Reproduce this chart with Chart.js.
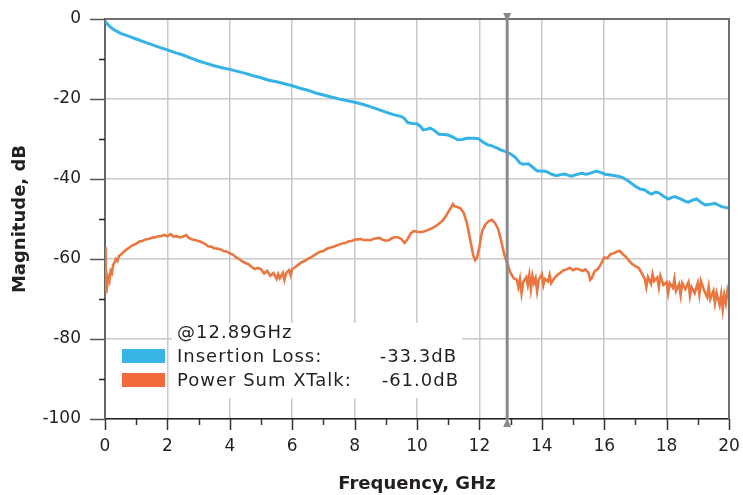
<!DOCTYPE html>
<html><head><meta charset="utf-8">
<script src="https://cdn.jsdelivr.net/npm/chart.js@4.4.1/dist/chart.umd.min.js"></script>
<style>html,body{margin:0;padding:0;background:#fff}#wrap{width:743px;height:495px;position:relative}</style>
</head><body><div id="wrap"><canvas id="c" width="743" height="495"></canvas></div>
<script>
// ---- data ----
const ilFreq = [0,0.1,0.25,0.5,0.75,1.0,1.25,1.5,1.75,2.0,2.25,2.5,2.75,3.0,3.25,3.5,3.75,4.0,4.25,4.5,4.75,5.0,5.25,5.5,5.75,6.0,6.25,6.5,6.75,7.0,7.25,7.5,7.75,8.0,8.25,8.5,8.75,9.0,9.25,9.5,9.6,9.7,9.85,10.0,10.1,10.2,10.3,10.42,10.55,10.7,10.85,11.0,11.15,11.3,11.45,11.6,11.8,11.97,12.1,12.25,12.4,12.55,12.7,12.89,13.05,13.15,13.3,13.4,13.57,13.7,13.85,14.0,14.15,14.3,14.47,14.6,14.74,14.85,14.96,15.1,15.28,15.4,15.5,15.65,15.76,15.9,16.03,16.2,16.35,16.5,16.61,16.75,16.88,17.0,17.15,17.3,17.42,17.52,17.64,17.74,17.9,18.06,18.17,18.27,18.38,18.48,18.6,18.7,18.83,18.96,19.1,19.23,19.4,19.55,19.66,19.76,19.88,20.0];
const ilDb = [-0.5,-1.5,-2.5,-3.6,-4.3,-5.0,-5.7,-6.4,-7.1,-7.7,-8.4,-9.0,-9.8,-10.5,-11.1,-11.7,-12.2,-12.6,-13.1,-13.6,-14.2,-14.7,-15.3,-15.7,-16.2,-16.7,-17.3,-17.8,-18.5,-19.0,-19.5,-20.0,-20.4,-20.8,-21.3,-21.9,-22.6,-23.3,-23.9,-24.4,-24.9,-25.9,-26.1,-26.2,-26.8,-27.7,-27.6,-27.3,-27.8,-28.8,-28.9,-29.0,-29.5,-30.2,-30.1,-29.8,-29.8,-29.9,-30.7,-31.4,-31.7,-32.2,-32.8,-33.3,-34.0,-34.6,-36.0,-36.3,-36.2,-37.0,-38.0,-38.0,-38.1,-38.8,-39.2,-38.9,-38.75,-39.1,-39.3,-38.9,-38.6,-38.8,-38.7,-38.3,-38.0,-38.4,-38.8,-39.0,-39.2,-39.4,-39.7,-40.4,-41.1,-41.8,-42.5,-42.75,-43.4,-43.75,-43.3,-43.4,-44.3,-45.0,-44.6,-44.4,-44.8,-45.1,-45.6,-45.8,-45.3,-45.0,-45.8,-46.5,-46.3,-46.1,-46.5,-46.9,-47.1,-47.3];

const xtFreq = [0,0.02,0.04,0.07,0.10,0.14,0.18,0.22,0.26,0.30,0.35,0.40,0.45,0.50,0.60,0.70,0.80,0.90,1.00,1.10,1.20,1.30,1.40,1.50,1.60,1.70,1.80,1.90,2.00,2.10,2.20,2.30,2.40,2.50,2.60,2.70,2.80,2.90,3.00,3.10,3.20,3.30,3.40,3.50,3.60,3.70,3.80,3.90,4.00,4.10,4.20,4.30,4.40,4.50,4.60,4.70,4.80,4.90,5.00,5.10,5.20,5.30,5.40,5.50,5.55,5.60,5.70,5.75,5.80,5.90,5.95,6.00,6.10,6.20,6.30,6.40,6.50,6.60,6.70,6.80,6.90,7.00,7.10,7.20,7.30,7.40,7.50,7.60,7.70,7.80,7.90,8.00,8.10,8.20,8.30,8.40,8.50,8.60,8.70,8.80,8.90,9.00,9.10,9.20,9.30,9.40,9.50,9.60,9.70,9.80,9.90,10.00,10.10,10.20,10.30,10.40,10.50,10.60,10.70,10.80,10.90,11.00,11.10,11.15,11.20,11.30,11.40,11.50,11.60,11.70,11.80,11.86,11.92,12.00,12.05,12.10,12.20,12.30,12.40,12.50,12.60,12.70,12.80,12.89,13.00,13.10,13.20,13.25,13.30,13.35,13.40,13.50,13.55,13.60,13.65,13.70,13.75,13.80,13.85,13.90,14.00,14.05,14.10,14.20,14.25,14.30,14.40,14.50,14.60,14.70,14.80,14.90,15.00,15.10,15.20,15.30,15.40,15.50,15.55,15.60,15.70,15.80,15.90,16.00,16.10,16.20,16.30,16.40,16.50,16.60,16.70,16.80,16.90,17.00,17.10,17.20,17.30,17.35,17.40,17.50,17.55,17.60,17.70,17.75,17.80,17.90,18.00,18.05,18.10,18.20,18.25,18.30,18.40,18.45,18.50,18.60,18.70,18.75,18.80,18.90,19.00,19.05,19.10,19.20,19.30,19.35,19.40,19.50,19.55,19.60,19.70,19.75,19.80,19.85,19.90,19.95,20.00];
const xtDb = [-57.0,-66.0,-68.5,-66.5,-64.5,-65.5,-63.0,-63.5,-61.5,-61.0,-60.0,-60.5,-59.2,-59.0,-58.2,-57.6,-57.0,-56.5,-56.2,-55.6,-55.5,-55.1,-55.0,-54.7,-54.6,-54.3,-54.3,-54.0,-54.3,-53.8,-54.4,-54.3,-54.6,-54.4,-54.0,-54.8,-55.1,-55.3,-55.5,-55.8,-56.2,-56.8,-56.9,-57.3,-57.4,-57.6,-58.0,-58.1,-58.6,-58.9,-59.6,-60.0,-60.6,-61.0,-61.3,-62.0,-62.5,-62.2,-62.6,-63.6,-63.0,-64.2,-63.5,-65.0,-63.8,-64.8,-63.5,-65.2,-63.6,-62.8,-64.0,-62.5,-62.0,-61.4,-60.8,-60.5,-60.0,-59.6,-59.1,-58.6,-58.2,-58.0,-57.5,-57.2,-57.0,-56.7,-56.4,-56.1,-56.0,-55.6,-55.5,-55.2,-55.1,-55.0,-55.3,-55.2,-55.3,-55.0,-54.8,-54.7,-55.2,-55.4,-55.3,-54.8,-54.5,-54.6,-55.0,-56.0,-55.0,-53.6,-53.0,-53.2,-53.3,-53.2,-52.9,-52.6,-52.2,-51.8,-51.2,-50.6,-49.6,-48.3,-47.0,-46.3,-46.8,-47.0,-47.4,-48.5,-51.0,-55.0,-59.0,-60.3,-59.8,-57.0,-54.5,-52.8,-51.3,-50.5,-50.2,-51.0,-52.5,-55.5,-59.0,-61.0,-63.5,-64.8,-65.2,-67.0,-65.0,-68.5,-65.8,-64.6,-66.5,-64.0,-67.5,-64.2,-66.0,-64.8,-68.0,-65.2,-63.8,-66.5,-65.0,-65.6,-64.0,-66.0,-64.8,-64.0,-63.4,-62.8,-62.6,-62.2,-62.8,-62.4,-62.6,-63.0,-62.6,-63.5,-65.2,-64.8,-63.0,-62.5,-61.2,-59.6,-59.8,-58.8,-58.6,-58.2,-58.0,-58.8,-59.5,-60.5,-61.3,-61.8,-62.2,-63.5,-65.0,-67.0,-64.5,-66.2,-63.8,-65.5,-64.6,-67.0,-64.2,-66.5,-65.8,-68.5,-66.0,-67.2,-65.0,-68.0,-66.3,-69.0,-66.0,-67.5,-65.8,-69.2,-67.0,-68.5,-66.0,-68.8,-65.5,-67.8,-69.5,-67.0,-70.0,-68.0,-71.0,-68.5,-71.5,-68.8,-72.5,-69.0,-71.0,-68.0,-70.0];

const xTicks = [0,2,4,6,8,10,12,14,16,18,20];
const yTicks = [0,-20,-40,-60,-80,-100];
const markerFreq = 12.89;
const seriesNames = ['Insertion Loss:', 'Power Sum XTalk:'];
const seriesValues = ['-33.3dB', '-61.0dB'];
const legendTitle = '@12.89GHz';
const xTitle = 'Frequency, GHz';
const yTitle = 'Magnitude, dB';

const BLUE = '#35B3E6', ORANGE = '#EA7640';
const SW_BLUE = '#37B5E6', SW_ORANGE = '#F26A3A';
const TXT = '#231f20';
const FONT = '"DejaVu Sans", sans-serif';

const toXY = (fs, vs) => fs.map((f, i) => ({x: f, y: vs[i]}));

const decor = {
  id: 'decor',
  afterDatasetsDraw(chart) {
    const ctx = chart.ctx, xs = chart.scales.x, ys = chart.scales.y, ca = chart.chartArea;
    ctx.save();
    // top/right frame
    ctx.strokeStyle = '#6e6e6e'; ctx.lineWidth = 2;
    ctx.beginPath();
    ctx.moveTo(ca.left, ca.top); ctx.lineTo(ca.right, ca.top); ctx.lineTo(ca.right, ca.bottom);
    ctx.stroke();
    // x tick marks
    ctx.strokeStyle = '#333'; ctx.lineWidth = 1.5;
    for (let f = 0; f <= 20; f++) {
      const px = Math.round(xs.getPixelForValue(f)) + 0.5;
      const len = (f % 2 === 0) ? 11 : 6;
      ctx.beginPath(); ctx.moveTo(px, ca.bottom); ctx.lineTo(px, ca.bottom + len); ctx.stroke();
    }
    // y tick marks
    for (let v = 0; v >= -100; v -= 10) {
      const py = Math.round(ys.getPixelForValue(v)) + 0.5;
      const len = (v % 20 === 0) ? 15 : 6;
      ctx.strokeStyle = (v % 20 === 0) ? '#555' : '#222';
      ctx.beginPath(); ctx.moveTo(ca.left - len, py); ctx.lineTo(ca.left, py); ctx.stroke();
    }
    // marker line
    const mx = xs.getPixelForValue(markerFreq);
    ctx.strokeStyle = '#8a8a8a'; ctx.lineWidth = 3;
    ctx.beginPath(); ctx.moveTo(mx, ca.top); ctx.lineTo(mx, ca.bottom); ctx.stroke();
    ctx.fillStyle = '#8a8a8a';
    ctx.beginPath(); ctx.moveTo(mx - 4, ca.top - 6); ctx.lineTo(mx + 4, ca.top - 6); ctx.lineTo(mx, ca.top + 3); ctx.closePath(); ctx.fill();
    ctx.beginPath(); ctx.moveTo(mx - 4, ca.bottom + 8); ctx.lineTo(mx + 4, ca.bottom + 8); ctx.lineTo(mx, ca.bottom - 1); ctx.closePath(); ctx.fill();
    // legend block
    ctx.fillStyle = '#fff';
    ctx.fillRect(172, 323, 290, 75);
    ctx.fillStyle = SW_BLUE; ctx.fillRect(122, 349, 43, 14);
    ctx.fillStyle = SW_ORANGE; ctx.fillRect(122, 373, 43, 14);
    ctx.fillStyle = TXT;
    ctx.font = '18px ' + FONT;
    ctx.letterSpacing = '1px';
    ctx.textBaseline = 'middle';
    ctx.textAlign = 'left';
    ctx.fillText(legendTitle, 177, 333);
    ctx.fillText(seriesNames[0], 177, 357);
    ctx.fillText(seriesNames[1], 177, 381);
    ctx.textAlign = 'right';
    ctx.fillText(seriesValues[0], 457, 357);
    ctx.fillText(seriesValues[1], 459, 381);
    ctx.restore();
  }
};

new Chart(document.getElementById('c'), {
  type: 'line',
  data: {
    datasets: [
      {label: seriesNames[0], data: toXY(ilFreq, ilDb), borderColor: BLUE, borderWidth: 3, pointRadius: 0, tension: 0},
      {label: seriesNames[1], data: toXY(xtFreq, xtDb), borderColor: ORANGE, borderWidth: 2.6, pointRadius: 0, tension: 0}
    ]
  },
  options: {
    responsive: false, animation: false, devicePixelRatio: 1,
    layout: {padding: {top: 19, right: 14, left: 0, bottom: 0}},
    plugins: {legend: {display: false}, tooltip: {enabled: false}},
    scales: {
      x: {
        type: 'linear', min: 0, max: 20,
        afterFit: s => { s.height = 76; },
        afterBuildTicks: s => { s.ticks = xTicks.map(v => ({value: v})); },
        ticks: {color: TXT, font: {family: FONT, size: 17}, padding: 0, maxRotation: 0},
        grid: {color: '#c9c9c9', lineWidth: 1.5, drawTicks: true, tickLength: 17, tickColor: 'rgba(0,0,0,0)'},
        border: {display: true, color: '#222', width: 1.5},
        title: {display: true, text: xTitle, color: TXT, font: {family: FONT, size: 18, weight: 'bold'}, padding: {top: 0, bottom: 0}}
      },
      y: {
        type: 'linear', min: -100, max: 0,
        afterFit: s => { s.width = 105; },
        afterBuildTicks: s => { s.ticks = yTicks.map(v => ({value: v})); },
        ticks: {color: TXT, font: {family: FONT, size: 17}, padding: 0},
        grid: {color: '#c9c9c9', lineWidth: 1.5, drawTicks: true, tickLength: 24, tickColor: 'rgba(0,0,0,0)'},
        border: {display: true, color: '#666', width: 2},
        title: {display: true, text: yTitle, color: TXT, font: {family: FONT, size: 18, weight: 'bold'}, padding: {top: 10, bottom: 0}}
      }
    }
  },
  plugins: [decor]
});
</script></body></html>
